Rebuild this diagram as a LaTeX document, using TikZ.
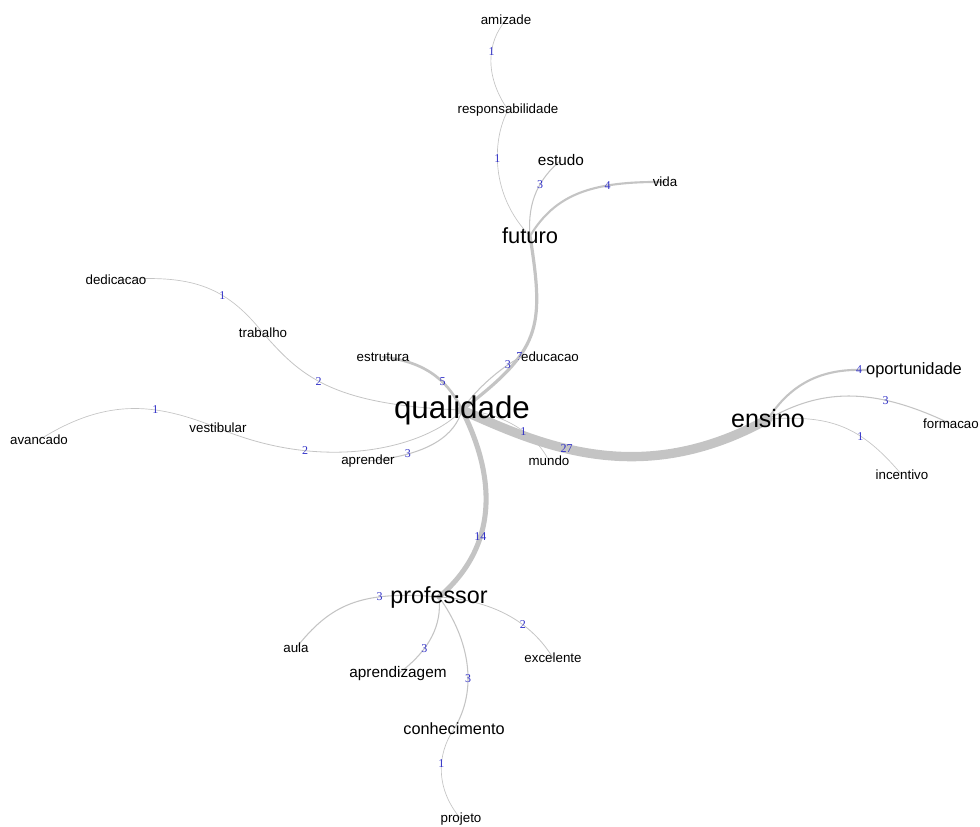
\documentclass[tikz,border=0pt]{standalone}
\usepackage{fontspec}
\setmainfont{Liberation Sans}
\newfontfamily\numfont{Liberation Serif}
\pgfdeclarelayer{bg}
\pgfsetlayers{bg,main}
\definecolor{edgegray}{RGB}{196,196,196}
\definecolor{numblue}{RGB}{50,50,200}

\begin{document}
\begin{tikzpicture}[x=0.75pt,y=-0.75pt,
  word/.style={inner sep=0pt,font=\fontsize{#1}{#1}\selectfont},
  word/.default=10,
  lnk/.style={draw=edgegray,line width=#1,line cap=round},
  wt/.style={inner sep=0pt,text=numblue,font=\numfont\fontsize{9}{9}\selectfont}]

 \useasboundingbox (0,0) rectangle (980,826);

  \node[word=23.5] (qual) at (462,410) {qualidade};
  \node[word=18.8] (ens) at (768,419) {ensino};
  \node[word=17.5] (prof) at (439,597) {professor};
  \node[word=16.4] (fut) at (530,236) {futuro};

  \node[word] (amz) at (506,20) {amizade};
  \node[word] (resp) at (508,110) {responsabilidade};
  \node[word=11.5] (est) at (561,160) {estudo};
  \node[word] (vida) at (665,182) {vida};

  \node[word] (ded) at (116,280) {dedicacao};
  \node[word] (trab) at (263,333) {trabalho};
  \node[word] (estr) at (383,357) {estrutura};
  \node[word] (edu) at (550,357) {educacao};
  \node[word] (vest) at (218,428) {vestibular};
  \node[word] (avan) at (39,440) {avancado};
  \node[word] (apr) at (368,461) {aprender};
  \node[word] (mun) at (549,461) {mundo};

  \node[word=12.3] (oport) at (914,370) {oportunidade};
  \node[word] (form) at (951,424) {formacao};
  \node[word] (inc) at (902,475) {incentivo};

  \node[word] (aula) at (296,648) {aula};
  \node[word=11.5] (aprz) at (398,674) {aprendizagem};
  \node[word] (exc) at (553,658) {excelente};
  \node[word=12.2] (conh) at (454,729) {conhecimento};
  \node[word] (proj) at (461,819) {projeto};

 \begin{pgfonlayer}{bg}
  \draw[lnk=7pt] (qual.center) .. controls (540,445) and (640,490) .. (ens.center) node[wt,pos=.4] {27};
  \draw[lnk=3.8pt] (qual.center) .. controls (495,475) and (500,545) .. (prof.center) node[wt,pos=.65] {14};

  \draw[lnk=0.5pt] (amz.center) .. controls (487,42) and (484,75) .. (resp.center) node[wt,pos=.4] {1};
  \draw[lnk=0.5pt] (resp.center) .. controls (492,140) and (490,195) .. (fut.center) node[wt,pos=.42] {1};
  \draw[lnk=0.8pt] (fut.center) .. controls (527,200) and (540,178) .. (est.center) node[wt,pos=.6] {3};
  \draw[lnk=1.6pt] (fut.center) .. controls (555,195) and (590,181) .. (vida.center) node[wt,pos=.7] {4};
  \draw[lnk=2.4pt] (fut.center) .. controls (545,330) and (540,350) .. (qual.center) node[wt,pos=.65] {7};

  \draw[lnk=0.8pt] (qual.center) .. controls (475,390) and (500,368) .. (edu.west) node[wt,pos=.8] {3};
  \draw[lnk=2pt] (qual.center) .. controls (450,385) and (430,362) .. (estr.center) node[wt,pos=.4] {5};
  \draw[lnk=0.6pt] (qual.center) .. controls (330,405) and (300,375) .. (trab.center) node[wt,pos=.55] {2};
  \draw[lnk=0.5pt] (trab.center) .. controls (225,285) and (190,274) .. (ded.center) node[wt,pos=.35] {1};
  \draw[lnk=0.6pt] (qual.center) .. controls (430,445) and (330,475) .. (vest.center) node[wt,pos=.73] {2};
  \draw[lnk=0.5pt] (vest.center) .. controls (160,405) and (110,395) .. (avan.center) node[wt,pos=.37] {1};
  \draw[lnk=0.8pt] (qual.center) .. controls (455,435) and (430,455) .. (apr.center) node[wt,pos=.75] {3};
  \draw[lnk=0.5pt] (qual.center) .. controls (500,412) and (535,432) .. (mun.center) node[wt,pos=.6] {1};

  \draw[lnk=1.6pt] (ens.center) .. controls (790,385) and (820,368) .. (oport.west) node[wt,pos=.95] {4};
  \draw[lnk=0.8pt] (ens.center) .. controls (820,390) and (870,385) .. (form.center) node[wt,pos=.7] {3};
  \draw[lnk=0.5pt] (ens.center) .. controls (830,415) and (860,425) .. (inc.center) node[wt,pos=.65] {1};

  \draw[lnk=0.8pt] (prof.center) .. controls (360,590) and (330,605) .. (aula.center) node[wt,pos=.3] {3};
  \draw[lnk=0.8pt] (prof.center) .. controls (442,625) and (430,650) .. (aprz.center) node[wt,pos=.65] {3};
  \draw[lnk=0.6pt] (prof.center) .. controls (490,600) and (530,620) .. (exc.center) node[wt,pos=.65] {2};
  \draw[lnk=0.8pt] (prof.center) .. controls (470,640) and (478,690) .. (conh.center) node[wt,pos=.6] {3};
  \draw[lnk=0.5pt] (conh.center) .. controls (436,755) and (436,790) .. (proj.center) node[wt,pos=.4] {1};
 \end{pgfonlayer}

\end{tikzpicture}
\end{document}
